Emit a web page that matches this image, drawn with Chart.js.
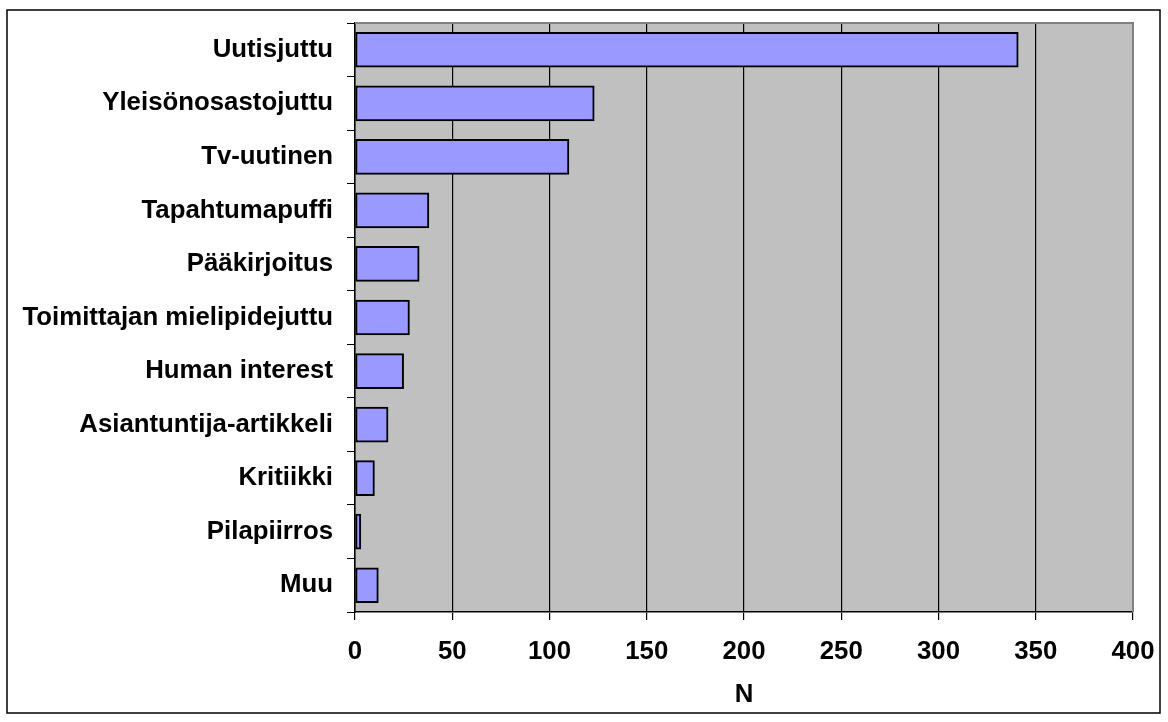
<!DOCTYPE html>
<html>
<head>
<meta charset="utf-8">
<script src="https://cdn.jsdelivr.net/npm/chart.js@4/dist/chart.umd.min.js"></script>
<style>
  html, body { margin:0; padding:0; background:#fff; }
  #wrap { width:1168px; height:722px; }
</style>
</head>
<body>
<div id="wrap"><canvas id="chart" width="1168" height="722"></canvas></div>
<script>
// dados do gráfico
const categories = ['Uutisjuttu','Yleisönosastojuttu','Tv-uutinen','Tapahtumapuffi','Pääkirjoitus',
    'Toimittajan mielipidejuttu','Human interest','Asiantuntija-artikkeli','Kritiikki','Pilapiirros','Muu'];
const counts = [341, 123, 110, 38, 33, 28, 25, 17, 10, 3, 12];
const xTicks = [0, 50, 100, 150, 200, 250, 300, 350, 400];
const xTitle = 'N';

const fontFam = '"Liberation Sans", Arial, sans-serif';
const fontSize = 25.8;

// fundo cinza da área do gráfico + moldura externa
const plotBg = {
    id: 'plotBg',
    beforeDraw(chart){
        const a = chart.chartArea, ctx = chart.ctx;
        ctx.save();
        ctx.fillStyle = '#fff';
        ctx.fillRect(0, 0, chart.width, chart.height);
        ctx.fillStyle = '#C0C0C0';
        ctx.fillRect(a.left, a.top, a.right - a.left, a.bottom - a.top);
        ctx.restore();
    },
    afterDraw(chart){
        const a = chart.chartArea, ctx = chart.ctx;
        ctx.save();
        ctx.strokeStyle = '#808080';
        ctx.lineWidth = 2;
        ctx.beginPath();
        ctx.moveTo(a.left, a.top);
        ctx.lineTo(a.right, a.top);
        ctx.lineTo(a.right, a.bottom);
        ctx.stroke();
        ctx.strokeStyle = '#000';
        ctx.lineWidth = 1.5;
        ctx.strokeRect(7, 10, 1153, 703);
        ctx.restore();
    }
};

const ctx = document.getElementById('chart').getContext('2d');
const chart = new Chart(ctx, {
    type: 'bar',
    data: {
        labels: categories,
        datasets: [{
            data: counts,
            backgroundColor: '#9999FF',
            borderColor: '#000',
            borderWidth: 2,
            borderSkipped: false,
            barThickness: 35
        }]
    },
    options: {
        indexAxis: 'y',
        responsive: false,
        animation: false,
        layout: { padding: { top: 23, right: 35, left: 10, bottom: 0 } },
        plugins: { legend: { display: false }, tooltip: { enabled: false } },
        scales: {
            x: {
                min: 0, max: 400,
                afterBuildTicks(scale){ scale.ticks = xTicks.map(v => ({ value: v })); },
                afterFit(scale){ scale.height = 110; scale.paddingLeft = 0; scale.paddingRight = 0; },
                grid: {
                    color: c => (c.tick && c.tick.value === 400) ? '#808080' : '#000',
                    tickColor: '#000',
                    lineWidth: 1.2,
                    tickLength: 8
                },
                border: { color: '#000', width: 1.5 },
                ticks: { color: '#000', padding: 16, font: { family: fontFam, size: fontSize, weight: 'bold' } },
                title: {
                    display: true, text: xTitle, color: '#000',
                    padding: { top: 4, bottom: 12 },
                    font: { family: fontFam, size: fontSize, weight: 'bold' }
                }
            },
            y: {
                afterFit(scale){ scale.width = 345; scale.paddingTop = 0; scale.paddingBottom = 0; },
                grid: { offset: true, drawOnChartArea: false, tickLength: 8, color: '#000' },
                border: { color: '#000', width: 1.5 },
                ticks: { color: '#000', padding: 14, font: { family: fontFam, size: fontSize, weight: 'bold' } }
            }
        }
    },
    plugins: [plotBg]
});
</script>
</body>
</html>
